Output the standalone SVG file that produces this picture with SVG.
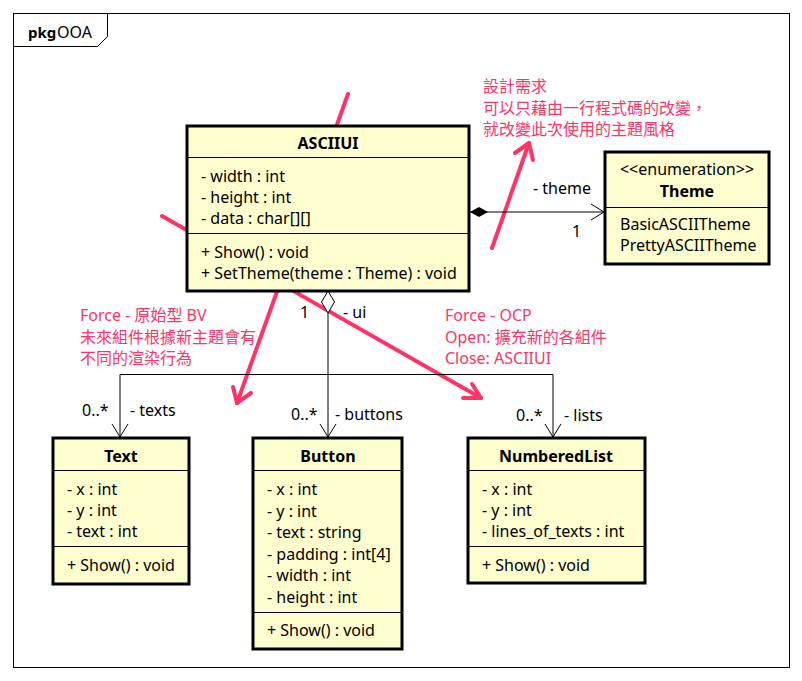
<svg xmlns="http://www.w3.org/2000/svg" width="802" height="681" viewBox="0 0 802 681">
<style>
text{font-family:"Noto Sans","Noto Sans CJK TC",sans-serif;font-size:16px;fill:#000}
.b{font-weight:bold}
.m{text-anchor:middle}
.note{fill:#FF3366}
.box{fill:#FEFECE;stroke:#000;stroke-width:3}
.sep{stroke:#000;stroke-width:1}
.con{fill:none;stroke:#000;stroke-width:1}
.pk{fill:none;stroke:#FF3366;stroke-width:4;stroke-linecap:round;stroke-linejoin:round}
</style>
<rect width="802" height="681" fill="#fff"/>
<g id="frame">
<rect x="13.5" y="13.5" width="776" height="654" fill="none" stroke="#000" stroke-width="1"/>
<path d="M13.5 46.5 H97.5 L107.5 36.5 V13.5" fill="none" stroke="#000" stroke-width="1"/>
<text x="28" y="38" class="b" style="font-size:15px">pkg</text>
<text x="57" y="38">OOA</text>
</g>
<g id="notes-lines">
<line class="pk" x1="162" y1="216" x2="481" y2="398"/>
<path class="pk" d="M463 398 L481 398 L472 384"/>
<line class="pk" x1="348" y1="94" x2="237" y2="403"/>
<path class="pk" d="M233 387 L237 403 L251 393"/>
<line class="pk" x1="492" y1="248" x2="529" y2="143"/>
<path class="pk" d="M515 153 L529 143 L533 160"/>
</g>
<g id="connectors">
<line class="con" x1="470" y1="212" x2="604" y2="212"/>
<path d="M470 212 L479 207 L488 212 L479 217 Z" fill="#000"/>
<path class="con" d="M591 204 L604 212 L591 220"/>
<text x="533" y="194">- theme</text>
<text x="572" y="237">1</text>
<path d="M328 291 L334.5 302 L328 313 L321.5 302 Z" fill="#fff" stroke="#000" stroke-width="1"/>
<line class="con" x1="328" y1="313" x2="328" y2="437"/>
<path class="con" d="M120 437 V374.5 H553 V437"/>
<path class="con" d="M112 424 L120 437 L128 424"/>
<path class="con" d="M320 424 L328 437 L336 424"/>
<path class="con" d="M545 424 L553 437 L561 424"/>
<text x="300" y="318">1</text>
<text x="343" y="318">- ui</text>
<text x="82" y="416">0..*</text>
<text x="130" y="416">- texts</text>
<text x="291" y="420">0..*</text>
<text x="335" y="420">- buttons</text>
<text x="516" y="421">0..*</text>
<text x="564" y="421">- lists</text>
</g>
<g id="ASCIIUI">
<rect class="box" x="187" y="126" width="282" height="165"/>
<line class="sep" x1="187" y1="157.5" x2="469" y2="157.5"/>
<line class="sep" x1="187" y1="233.5" x2="469" y2="233.5"/>
<text x="328" y="149" class="b m">ASCIIUI</text>
<text x="201" y="182">- width : int</text>
<text x="201" y="203">- height : int</text>
<text x="201" y="224">- data : char[][]</text>
<text x="201" y="258">+ Show() : void</text>
<text x="201" y="279">+ SetTheme(theme : Theme) : void</text>
</g>
<g id="Theme">
<rect class="box" x="605" y="152" width="164" height="112"/>
<line class="sep" x1="605" y1="207.5" x2="769" y2="207.5"/>
<text x="687" y="175" class="m">&lt;&lt;enumeration&gt;&gt;</text>
<text x="687" y="197" class="b m">Theme</text>
<text x="620" y="230">BasicASCIITheme</text>
<text x="620" y="251">PrettyASCIITheme</text>
</g>
<g id="Text">
<rect class="box" x="53" y="438" width="136" height="146"/>
<line class="sep" x1="53" y1="470.5" x2="189" y2="470.5"/>
<line class="sep" x1="53" y1="546.5" x2="189" y2="546.5"/>
<text x="121" y="462" class="b m">Text</text>
<text x="67" y="495">- x : int</text>
<text x="67" y="516">- y : int</text>
<text x="67" y="537">- text : int</text>
<text x="67" y="571">+ Show() : void</text>
</g>
<g id="Button">
<rect class="box" x="253" y="438" width="149" height="211"/>
<line class="sep" x1="253" y1="470.5" x2="402" y2="470.5"/>
<line class="sep" x1="253" y1="612.5" x2="402" y2="612.5"/>
<text x="328" y="462" class="b m">Button</text>
<text x="267" y="495">- x : int</text>
<text x="267" y="516.5">- y : int</text>
<text x="267" y="538">- text : string</text>
<text x="267" y="559.5">- padding : int[4]</text>
<text x="267" y="581">- width : int</text>
<text x="267" y="602.5">- height : int</text>
<text x="267" y="636">+ Show() : void</text>
</g>
<g id="NumberedList">
<rect class="box" x="468" y="438" width="177" height="145"/>
<line class="sep" x1="468" y1="470.5" x2="645" y2="470.5"/>
<line class="sep" x1="468" y1="546.5" x2="645" y2="546.5"/>
<text x="556" y="462" class="b m">NumberedList</text>
<text x="482" y="495">- x : int</text>
<text x="482" y="516">- y : int</text>
<text x="482" y="537">- lines_of_texts : int</text>
<text x="482" y="571">+ Show() : void</text>
</g>
<g id="note-requirement">
<text x="483" y="92" class="note">設計需求</text>
<text x="483" y="113.5" class="note">可以只藉由一行程式碼的改變，</text>
<text x="483" y="135" class="note">就改變此次使用的主題風格</text>
</g>
<g id="note-bv">
<text x="80" y="321" class="note">Force - 原始型 BV</text>
<text x="80" y="342.5" class="note">未來組件根據新主題會有</text>
<text x="80" y="364" class="note">不同的渲染行為</text>
</g>
<g id="note-ocp">
<text x="445" y="321" class="note">Force - OCP</text>
<text x="445" y="342.5" class="note">Open: 擴充新的各組件</text>
<text x="445" y="364" class="note">Close: ASCIIUI</text>
</g>
</svg>
